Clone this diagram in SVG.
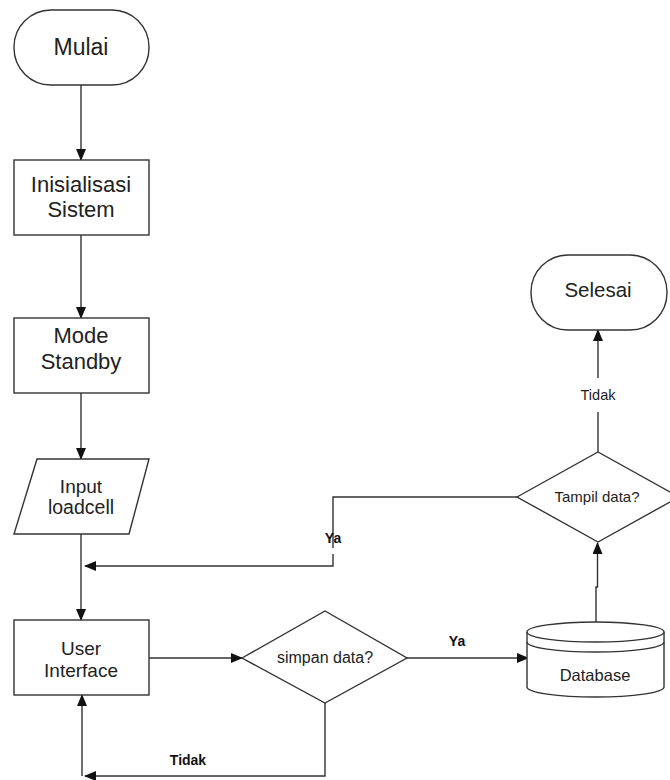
<svg xmlns="http://www.w3.org/2000/svg" width="670" height="780" viewBox="0 0 670 780">
<defs>
<marker id="arr" markerWidth="12" markerHeight="10" refX="11" refY="5" orient="auto" markerUnits="userSpaceOnUse">
<path d="M0,0 L12,5 L0,10 Z" fill="#111"/>
</marker>
<style>
.shape{fill:#fff;stroke:#333;stroke-width:1.4}
.conn{fill:none;stroke:#333;stroke-width:1.4}
.t{font-family:"Liberation Sans",Arial,sans-serif;fill:#222;text-anchor:middle}
.lb{font-family:"Liberation Sans",Arial,sans-serif;fill:#111;text-anchor:middle;font-weight:bold;font-size:14px}
</style>
</defs>
<rect width="670" height="780" fill="#fff"/>

<g id="connectors">
<line class="conn" x1="81" y1="85" x2="81" y2="160" marker-end="url(#arr)"/>
<line class="conn" x1="81" y1="235" x2="81" y2="318" marker-end="url(#arr)"/>
<line class="conn" x1="81" y1="393" x2="81" y2="459" marker-end="url(#arr)"/>
<line class="conn" x1="81" y1="534" x2="81" y2="620" marker-end="url(#arr)"/>
<line class="conn" x1="149" y1="658" x2="242" y2="658" marker-end="url(#arr)"/>
<line class="conn" x1="407" y1="658" x2="528" y2="658" marker-end="url(#arr)"/>
<path class="conn" d="M596,622 V587 H597.5 V543" marker-end="url(#arr)"/>
<line class="conn" x1="598" y1="452" x2="598" y2="412"/>
<line class="conn" x1="598" y1="378" x2="598" y2="330" marker-end="url(#arr)"/>
<path class="conn" d="M517,497 H333 V548"/>
<path class="conn" d="M333,554 V566 H85" marker-end="url(#arr)"/>
<path class="conn" d="M325,703 V776 H85" marker-end="url(#arr)"/>
<line class="conn" x1="82" y1="776" x2="82" y2="695" marker-end="url(#arr)"/>
<text class="lb" x="333" y="543">Ya</text>
<text class="lb" x="457" y="646">Ya</text>
<text class="lb" x="188" y="765">Tidak</text>
<text class="t" x="598" y="400" font-size="14.5">Tidak</text>
</g>

<g id="mulai">
<rect class="shape" x="14" y="10" width="135" height="75" rx="37" ry="37"/>
<text class="t" x="81" y="55" font-size="23">Mulai</text>
</g>

<g id="inisialisasi">
<rect class="shape" x="14" y="160" width="135" height="75"/>
<text class="t" x="81" y="192" font-size="22">Inisialisasi</text>
<text class="t" x="81" y="217" font-size="22">Sistem</text>
</g>

<g id="standby">
<rect class="shape" x="14" y="318" width="135" height="75"/>
<text class="t" x="81" y="343" font-size="22">Mode</text>
<text class="t" x="81" y="369" font-size="22">Standby</text>
</g>

<g id="input">
<polygon class="shape" points="37,459 149,459 129,534 14,534"/>
<text class="t" x="81" y="493" font-size="19">Input</text>
<text class="t" x="81" y="514" font-size="19.5">loadcell</text>
</g>

<g id="ui">
<rect class="shape" x="14" y="620" width="135" height="75"/>
<text class="t" x="81" y="655" font-size="19">User</text>
<text class="t" x="81" y="677" font-size="19">Interface</text>
</g>

<g id="simpan">
<polygon class="shape" points="242,658 325,611 407,658 325,703"/>
<text class="t" x="325" y="663" font-size="16">simpan data?</text>
</g>

<g id="database">
<path class="shape" d="M527,632 V687 A68.5,10 0 0 0 664,687 V632"/>
<ellipse class="shape" cx="595.5" cy="632" rx="68.5" ry="10"/>
<path class="conn" d="M527,642 A68.5,10 0 0 0 664,642"/>
<text class="t" x="595" y="681" font-size="16.5">Database</text>
</g>

<g id="tampil">
<polygon class="shape" points="517,497 598,452 679,497 598,542"/>
<text class="t" x="597" y="502" font-size="15">Tampil data?</text>
</g>

<g id="selesai">
<rect class="shape" x="531" y="255" width="136" height="75" rx="37" ry="37"/>
<text class="t" x="598" y="297" font-size="20.5">Selesai</text>
</g>
</svg>
